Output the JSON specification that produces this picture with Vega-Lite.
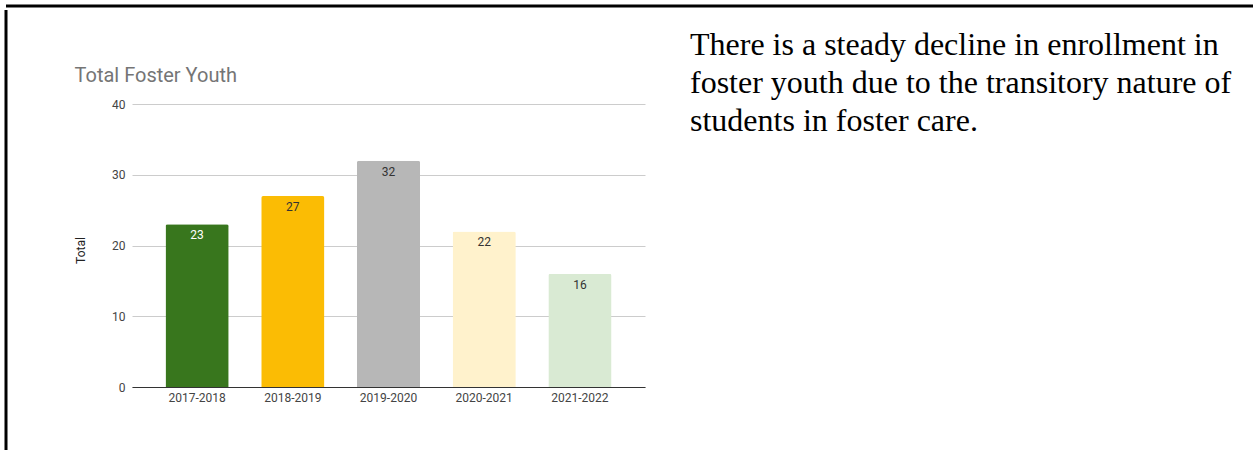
{
  "$schema": "https://vega.github.io/schema/vega-lite/v6.json",
  "background": "white",
  "padding": {"left": 4, "top": 4, "right": 0, "bottom": 0},
  "config": {"view": {"stroke": null}, "font": "Roboto"},
  "datasets": {
    "enrollment": [
      {"year": "2017-2018", "total": 23},
      {"year": "2018-2019", "total": 27},
      {"year": "2019-2020", "total": 32},
      {"year": "2020-2021", "total": 22},
      {"year": "2021-2022", "total": 16}
    ],
    "frame": [{"edge": 0}],
    "note": [
      {"text": "There is a steady decline in enrollment in\nfoster youth due to the transitory nature of\nstudents in foster care."}
    ]
  },
  "spacing": 0,
  "vconcat": [
    {
      "width": 1247,
      "height": 1,
      "data": {"name": "frame"},
      "mark": {"type": "rule", "color": "black", "strokeWidth": 3},
      "encoding": {
        "y": {"datum": 1, "type": "quantitative", "scale": {"domain": [0, 1]}, "axis": null}
      }
    },
    {
      "spacing": 45,
      "hconcat": [
        {
          "width": 23,
          "height": 440,
          "data": {"name": "frame"},
          "mark": {"type": "rule", "color": "black", "strokeWidth": 3},
          "encoding": {
            "x": {"datum": 0, "type": "quantitative", "scale": {"domain": [0, 1]}, "axis": null}
          }
        },
        {
          "width": 513,
          "height": 377,
          "data": {"name": "enrollment"},
          "title": {
            "text": "Total Foster Youth",
            "anchor": "start",
            "frame": "bounds",
            "baseline": "top",
            "font": "Roboto",
            "fontSize": 20,
            "fontWeight": "normal",
            "color": "#757575",
            "offset": -76
          },
          "encoding": {
            "x": {
              "field": "year",
              "type": "nominal",
              "sort": null,
              "scale": {"paddingInner": 0.34, "paddingOuter": 0.35},
              "axis": {
                "title": null,
                "labelAngle": 0,
                "ticks": false,
                "domainColor": "#333333",
                "labelFontSize": 12,
                "labelColor": "#444444",
                "labelPadding": 5,
                "labelFont": "Roboto"
              }
            },
            "y": {
              "field": "total",
              "type": "quantitative",
              "scale": {"domain": [0, 53.3], "nice": false},
              "axis": {
                "title": "Total",
                "titleFont": "Roboto",
                "titleFontSize": 12,
                "titleFontWeight": "normal",
                "titleColor": "#222222",
                "titlePadding": 24,
                "titleY": 240,
                "values": [0, 10, 20, 30, 40],
                "domain": false,
                "ticks": false,
                "gridColor": "#cccccc",
                "labelFontSize": 12,
                "labelColor": "#444444",
                "labelPadding": 7,
                "labelFont": "Roboto"
              }
            }
          },
          "layer": [
            {
              "mark": {"type": "bar", "cornerRadiusTopLeft": 2, "cornerRadiusTopRight": 2},
              "encoding": {
                "color": {
                  "field": "year",
                  "type": "nominal",
                  "scale": {
                    "domain": ["2017-2018", "2018-2019", "2019-2020", "2020-2021", "2021-2022"],
                    "range": ["#38761d", "#fbbc04", "#b7b7b7", "#fff2cc", "#d9ead3"]
                  },
                  "legend": null
                }
              }
            },
            {
              "mark": {"type": "text", "baseline": "top", "dy": 6, "fontSize": 12, "font": "Roboto"},
              "encoding": {
                "text": {"field": "total", "type": "quantitative"},
                "color": {
                  "condition": {"test": "datum.year === '2017-2018'", "value": "#ffffff"},
                  "value": "#333333"
                }
              }
            }
          ]
        },
        {
          "width": 540,
          "height": 39,
          "data": {"name": "note"},
          "mark": {
            "type": "text",
            "align": "left",
            "baseline": "top",
            "lineBreak": "\n",
            "lineHeight": 38,
            "font": "Liberation Serif",
            "fontSize": 32,
            "color": "#000000"
          },
          "encoding": {
            "x": {"datum": 0, "type": "quantitative", "scale": {"domain": [0, 1]}, "axis": null},
            "text": {"field": "text"}
          }
        }
      ]
    }
  ]
}
